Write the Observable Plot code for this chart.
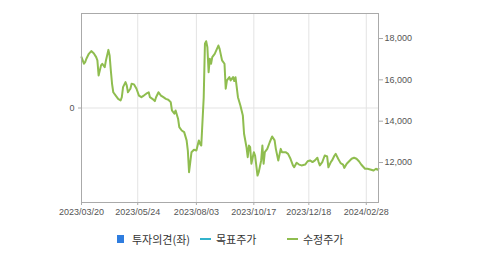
<!DOCTYPE html>
<html><head><meta charset="utf-8">
<script src="https://cdn.jsdelivr.net/npm/d3@7"></script>
<script src="https://cdn.jsdelivr.net/npm/@observablehq/plot@0.6"></script>
<style>
html,body{margin:0;padding:0;background:#fff;}
#wrap{width:479px;position:relative;}
#legend{position:relative;height:28px;font-family:"Noto Sans CJK KR","Noto Sans",sans-serif;font-size:11px;color:#333;}
#legend .it{position:absolute;top:5px;display:flex;align-items:center;white-space:nowrap;}
</style></head>
<body><div id="wrap"><div id="chart"></div><div id="legend"></div></div>
<script>
// trading-day index of each reading and the adjusted price (수정주가)
const dayIndex = [0,2,3,4,6,8,10,12,13,14,16,17,19,20,22,23,24,25,26,28,30,32,33,34,36,37,38,40,41,43,45,47,49,51,53,55,56,58,60,61,63,65,67,69,71,73,74,76,77,79,80,82,84,86,87,88,89,90,92,94,96,97,98,100,101,102,103,104,105,106,107,109,112,113,115,117,118,119,121,122,124,125,126,128,130,132,133,135,136,137,138,139,141,142,143,144,145,147,148,149,150,152,154,156,158,159,161,163,164,167,169,171,173,174,176,178,180,183,185,187,189,191,193,194,195,197,199,201,202,204,205,207,208,210,212,214,215,217,219,221,223,225,227,229,232,234,237,239,241,242,243];
const adjPrice = [17100,16780,16860,17020,17260,17390,17290,17100,16940,16210,16700,16780,16610,16940,17450,17180,16450,15810,15400,15240,15080,15000,15160,15650,15890,15730,15400,15570,15810,15780,15570,15240,15160,15240,15330,15400,15160,15080,14970,15160,15400,15240,15160,15080,15040,14920,14520,14360,14520,14120,13710,13550,13470,13070,12580,11530,12020,12500,12620,12580,13070,12900,12820,15160,17750,17870,17580,16370,17020,16780,17100,17260,17660,17500,16940,16780,15570,15970,16130,15970,16130,15940,16130,15160,14760,14280,13390,12740,12260,12820,12740,11940,12500,12340,11860,11370,11530,12100,12820,11940,12500,12660,12980,13260,13070,12660,12100,12660,12500,12500,12420,12180,11860,11770,11990,11900,11860,11900,12060,12100,12020,12100,12230,12020,11860,12020,12340,12290,11770,12020,12100,12340,12420,12180,11970,11900,11740,11940,12060,12180,12230,12180,12060,11890,11700,11700,11650,11610,11700,11650,11700];
const xTickIndex = [0,46,94,141,186,233];
const xTickLabels = ["2023/03/20","2023/05/24","2023/08/03","2023/10/17","2023/12/18","2024/02/28"];
const priceTicks = [12000,14000,16000,18000];
const opinionTicks = [0];
const opinionDomain = [-1,1];
const priceDomain = [10065,19210];
const legendLabels = ["투자의견(좌)","목표주가","수정주가"];
const legendColors = ["#2f7ddf","#33b3cc","#8fbd4f"];

const data = dayIndex.map((d,i)=>({i:d, v:adjPrice[i]}));
const labelMap = new Map(xTickIndex.map((d,i)=>[d,xTickLabels[i]]));
// map the left (opinion) scale onto the price range
const toPrice = o => priceDomain[0] + (o-opinionDomain[0])/(opinionDomain[1]-opinionDomain[0])*(priceDomain[1]-priceDomain[0]);
const opinionPos = opinionTicks.map(toPrice);

const chart = Plot.plot({
  width:479, height:226,
  marginLeft:81, marginRight:101, marginTop:13, marginBottom:24,
  style:{fontFamily:"'Liberation Sans',Arial,sans-serif", fontSize:"9px", background:"#fff"},
  x:{domain:[0,243]},
  y:{domain:priceDomain},
  marks:[
    Plot.gridX(xTickIndex,{stroke:"#e3e3e3", strokeOpacity:1}),
    Plot.ruleY(opinionPos,{stroke:"#e3e3e3"}),
    Plot.axisX(xTickIndex,{tickFormat:d=>labelMap.get(d), tickSize:3, tickPadding:3, label:null, fill:"#555", stroke:"#aaa", fontSize:9}),
    Plot.axisY(priceTicks,{anchor:"right", tickFormat:d3.format(","), tickSize:4, tickPadding:2, label:null, fill:"#555", stroke:"#aaa", fontSize:9}),
    Plot.axisY(opinionPos,{anchor:"left", tickFormat:()=>String(opinionTicks[0]), tickSize:3, tickPadding:4, label:null, fill:"#555", stroke:"#aaa", fontSize:9}),
    Plot.line(data,{x:"i", y:"v", stroke:"#8fbd4f", strokeWidth:2}),
    Plot.frame({stroke:"#aaa"})
  ]
});
document.getElementById("chart").appendChild(chart);

const lg = document.getElementById("legend");
const pos = [117,200,287];
legendLabels.forEach((t,k)=>{
  const it = document.createElement("div");
  it.className="it"; it.style.left=pos[k]+"px";
  const sw = document.createElement("span");
  if(k===0){ sw.style.cssText=`display:inline-block;width:7px;height:8px;background:${legendColors[k]};margin-right:8px;`; }
  else { sw.style.cssText=`display:inline-block;width:11px;height:2px;background:${legendColors[k]};margin-right:5px;`; }
  it.appendChild(sw);
  const tx=document.createElement("span"); tx.textContent=t; it.appendChild(tx);
  lg.appendChild(it);
});
</script></body></html>
